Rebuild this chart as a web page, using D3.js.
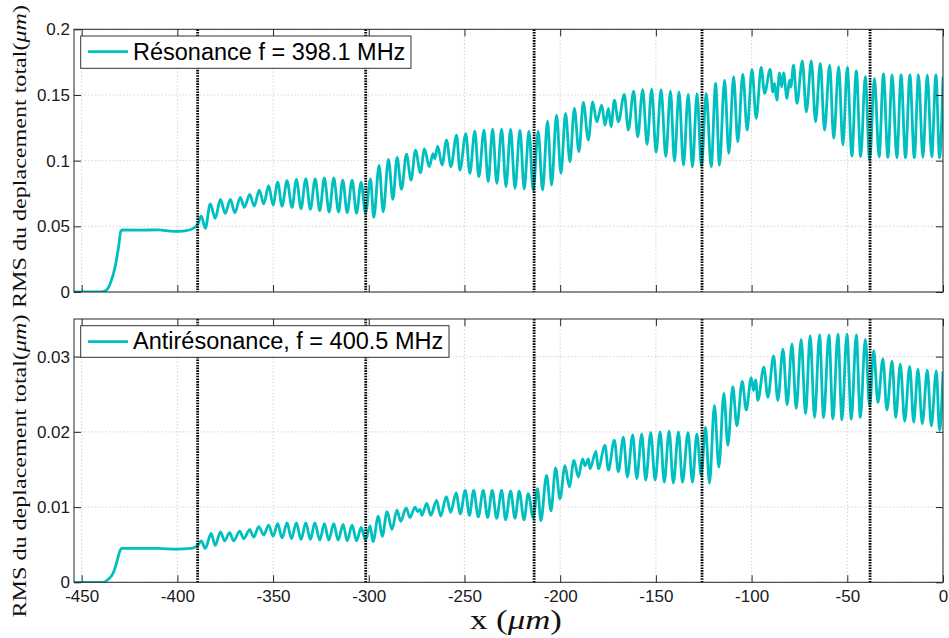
<!DOCTYPE html>
<html><head><meta charset="utf-8">
<script src="https://cdn.jsdelivr.net/npm/d3@7"></script>
<style>body{margin:0;background:#fff}svg{display:block}</style>
</head><body><svg id="chart" width="949" height="638"></svg>
<script>
const xTicks = [-450,-400,-350,-300,-250,-200,-150,-100,-50,0];
const xTickLabels = ["-450","-400","-350","-300","-250","-200","-150","-100","-50","0"];
const resTicks = [0,0.05,0.1,0.15,0.2];
const resTickLabels = ["0","0.05","0.1","0.15","0.2"];
const antiTicks = [0,0.01,0.02,0.03];
const antiTickLabels = ["0","0.01","0.02","0.03"];
const boundaries = [-389.4,-301.6,-213.6,-125.9,-38.1];
const legendLabels = ["Résonance f = 398.1 MHz","Antirésonance, f = 400.5 MHz"];
const yLabel = "RMS du deplacement total";
const xLabel = "x";

// [x (µm), RMS displacement (µm)] (local extrema)
const resonance = [
[-454,0],[-440,0],[-437,0.0015],[-435,0.0066],[-432.5,0.0193],[-430.7,0.0345],[-429.5,0.0465],[-428.5,0.0472],[-420,0.0471],[-410,0.0473],[-402,0.0461],[-396,0.0466],[-391,0.049],[-389.4,0.0515],
[-387.5,0.0578],[-385.4,0.0485],[-382.8,0.067],[-380.2,0.0561],[-377.5,0.0705],[-375,0.0599],[-372.3,0.0705],[-370,0.0604],[-367.1,0.072],[-365,0.0644],[-362.2,0.0743],[-359.8,0.0654],[-357.2,0.0776],[-354.9,0.067],[-352.3,0.0809],[-350,0.0662],[-347.6,0.0837],[-345.3,0.0654],[-342.7,0.0847],[-340.1,0.0644],[-337.8,0.0858],[-335.4,0.0634],[-332.9,0.0862],[-330.5,0.0629],[-328,0.0862],[-325.6,0.0619],[-323.2,0.0868],[-320.7,0.0609],[-318.3,0.0868],[-315.8,0.0609],[-313.6,0.0852],[-311.3,0.0604],[-308.7,0.0852],[-306.4,0.0599],[-304,0.0837],[-301.7,0.0599],
[-299.1,0.0862],[-297.4,0.0568],[-294.6,0.0964],[-292.5,0.0611],[-289.7,0.101],[-287.4,0.0705],[-285.2,0.1025],[-282.9,0.0781],[-280.3,0.105],[-277.9,0.0852],[-275.6,0.108],[-273,0.0908],[-270.9,0.109],[-268.4,0.0954],[-266.4,0.1053],[-265.5,0.1015],[-264,0.111],[-261.7,0.0967],[-259.4,0.1157],[-257.1,0.0954],[-254.1,0.1195],[-252.4,0.0928],[-249.3,0.1205],[-247.2,0.0903],[-244.6,0.1225],[-242.5,0.0878],[-239.8,0.1233],[-237.6,0.084],[-235.3,0.124],[-233.1,0.0827],[-230.6,0.124],[-228.3,0.0802],[-225.9,0.124],[-223.6,0.0789],[-221,0.1233],[-218.8,0.0784],[-216.3,0.1225],[-214.1,0.0776],
[-211.5,0.1225],[-209.2,0.0776],[-206.6,0.1301],[-204.5,0.0814],[-201.9,0.1347],[-199.6,0.0903],[-197.2,0.136],[-194.9,0.0992],[-192.6,0.1398],[-190.2,0.1068],[-187.9,0.1444],[-185.3,0.1157],[-183,0.1448],[-180.9,0.1296],[-178.3,0.1423],[-176.6,0.1271],[-174.8,0.1398],[-173.4,0.1258],[-171.7,0.1461],[-169.6,0.1296],[-166.5,0.1505],[-164.4,0.1233],[-161.6,0.153],[-159.5,0.1182],[-156.9,0.154],[-154.6,0.1124],[-152.2,0.1545],[-149.9,0.1063],[-147.3,0.154],[-144.8,0.103],[-142.4,0.153],[-140.3,0.0997],[-137.9,0.1524],[-135.6,0.0966],[-133.1,0.1505],[-130.9,0.0952],[-128.5,0.151],[-126.2,0.0955],
[-123.7,0.1512],[-121.1,0.0954],[-118.8,0.1588],[-116.8,0.0966],[-114.1,0.1613],[-111.9,0.1055],[-109.4,0.1639],[-107.2,0.1144],[-104.6,0.1659],[-102.3,0.1233],[-99.8,0.1695],[-97.6,0.1322],[-95,0.171],[-93.2,0.1512],[-90.3,0.1695],[-88.9,0.1522],[-88,0.1588],[-86.8,0.1461],[-85.4,0.1669],[-84.3,0.1562],[-83.3,0.1669],[-81.5,0.1474],[-80.2,0.1613],[-79.5,0.156],[-78.1,0.1728],[-76.3,0.1436],[-73.5,0.176],[-71.4,0.1372],[-68.8,0.176],[-66.6,0.1296],[-64.1,0.174],[-61.9,0.1233],[-59.2,0.1728],[-57.1,0.1169],[-54.5,0.1715],[-52.3,0.1119],[-50,0.171],[-47.6,0.1035],[-45.3,0.1684],[-43,0.103],[-40.6,0.1639],[-38.3,0.1005],
[-35.8,0.1627],[-33.4,0.1029],[-31.1,0.166],[-28.8,0.1025],[-26.6,0.1652],[-24.1,0.1022],[-21.9,0.1652],[-19.6,0.1022],[-17.3,0.1652],[-15,0.1022],[-12.8,0.1652],[-10.5,0.1025],[-8.2,0.1652],[-5.9,0.1029],[-3.7,0.1652],[-1.8,0.1022],[0,0.163]
];

const antiresonance = [
[-454,0],[-439,0],[-436.5,0.0003],[-433.4,0.0013],[-431.3,0.003],[-429.8,0.0043],[-429,0.0045],[-420,0.0045],[-410,0.0045],[-400,0.0044],[-393,0.0045],[-390.6,0.0047],[-389.4,0.0049],
[-387.5,0.0055],[-385.4,0.0045],[-382.4,0.0065],[-380.2,0.0049],[-377.5,0.0067],[-375.3,0.0055],[-372.7,0.0066],[-370.6,0.0055],[-367.4,0.0068],[-365.3,0.0058],[-362.2,0.007],[-360.1,0.006],[-357.5,0.0074],[-354.9,0.0063],[-352.3,0.0076],[-350,0.0061],[-347.6,0.0078],[-345.3,0.0059],[-342.7,0.0079],[-340.4,0.0058],[-337.8,0.0079],[-335.4,0.0057],[-332.9,0.0079],[-330.5,0.0057],[-328.2,0.0079],[-325.6,0.0056],[-323.2,0.0078],[-320.9,0.0056],[-318.3,0.0078],[-316,0.0056],[-313.4,0.0077],[-311.3,0.0055],[-308.7,0.0076],[-306.4,0.0055],[-304,0.0073],[-301.7,0.0056],
[-299.3,0.0075],[-297.8,0.0054],[-295,0.0088],[-293,0.0061],[-290.4,0.0094],[-287.9,0.007],[-285.3,0.0096],[-283.3,0.0081],[-280.5,0.0099],[-278.5,0.0086],[-275.8,0.01],[-274.5,0.0094],[-273.2,0.0097],[-272.3,0.0089],[-269.7,0.0105],[-267.6,0.0089],[-264.6,0.0109],[-262.4,0.0088],[-259.5,0.0114],[-257.2,0.0093],[-254.4,0.0119],[-252.2,0.0091],[-249.6,0.0122],[-247.4,0.0089],[-245.2,0.0122],[-242.8,0.0087],[-240.2,0.0122],[-237.9,0.0086],[-235.5,0.0122],[-233.2,0.0085],[-230.6,0.0122],[-228.5,0.0083],[-225.9,0.0121],[-223.6,0.0085],[-221.4,0.0121],[-218.9,0.0083],[-216.7,0.0118],[-214.1,0.0086],
[-211.8,0.01245],[-210.1,0.0082],[-207.1,0.0142],[-204.8,0.0095],[-202.4,0.0152],[-200.1,0.0111],[-197.5,0.0155],[-195.2,0.0127],[-192.8,0.0162],[-190.5,0.014],[-188.3,0.0164],[-187,0.0155],[-185.3,0.0164],[-184.4,0.0151],[-181.3,0.0174],[-180.1,0.0151],[-176.6,0.0182],[-174.8,0.0149],[-171.7,0.0189],[-169.6,0.0147],[-167,0.0193],[-164.9,0.014],[-162.1,0.0196],[-160,0.0138],[-157.4,0.0197],[-155.3,0.0136],[-152.7,0.0199],[-150.4,0.0136],[-147.8,0.02],[-145.6,0.0133],[-143.1,0.0201],[-140.9,0.0132],[-138.2,0.02],[-136.1,0.0133],[-133.2,0.0199],[-130.9,0.0133],[-128.6,0.0197],[-126.3,0.0142],
[-124.1,0.0206],[-122,0.0132],[-119.4,0.0235],[-117.1,0.0153],[-114.5,0.0251],[-112.4,0.0182],[-109.8,0.026],[-107.7,0.0208],[-104.9,0.0267],[-102.8,0.0229],[-100.2,0.0272],[-99,0.0255],[-97.9,0.0269],[-96.7,0.0242],[-93.6,0.0286],[-91.5,0.0246],[-88.5,0.0301],[-86.3,0.0242],[-83.6,0.031],[-81.4,0.0236],[-78.9,0.0317],[-76.7,0.0231],[-74.1,0.0323],[-71.8,0.0224],[-69.4,0.0328],[-67.1,0.0219],[-64.5,0.0329],[-62.4,0.0219],[-59.6,0.0329],[-57.5,0.0217],[-54.9,0.033],[-52.8,0.0216],[-50.2,0.033],[-47.9,0.0217],[-45.3,0.0329],[-43.2,0.0219],[-40.6,0.0323],[-38.3,0.0234],
[-36.2,0.0308],[-34,0.0239],[-31.4,0.0297],[-29.3,0.0229],[-26.6,0.0294],[-24.7,0.0219],[-22.3,0.029],[-20,0.0214],[-17.4,0.0287],[-15.3,0.0213],[-13.1,0.0283],[-10.8,0.0211],[-8.2,0.0282],[-6.1,0.0208],[-3.5,0.0281],[-1.8,0.0202],[0,0.0279]
];

const svg = d3.select("#chart");
const lineColor = "#00BFBF";
const axisColor = "#262626";
const sans = "'Liberation Sans', Arial, Helvetica, sans-serif";
const serif = "'Liberation Serif', 'DejaVu Serif', serif";

const x = d3.scaleLinear().domain([-454, 0]).range([74, 943]);

const panels = [
  {top: 29.3, bottom: 292, max: 0.2, ticks: resTicks, labels: resTickLabels, data: resonance,
   legend: legendLabels[0], box: [80.7, 36, 330.3, 32.3], legBase: 60, legLineY: 51.7,
   yLabCenter: 156.5, showX: false},
  {top: 319, bottom: 582.3, max: 0.035, ticks: antiTicks, labels: antiTickLabels, data: antiresonance,
   legend: legendLabels[1], box: [80.7, 325.7, 368.3, 31.6], legBase: 349.3, legLineY: 341.7,
   yLabCenter: 466, showX: true}
];

panels.forEach((p, i) => {
  const y = d3.scaleLinear().domain([0, p.max]).range([p.bottom, p.top]);
  const g = svg.append("g");
  const clipId = "clip" + i;
  svg.append("clipPath").attr("id", clipId).append("rect")
    .attr("x", 74).attr("y", p.top).attr("width", 869).attr("height", p.bottom - p.top);

  // grid
  g.append("g").selectAll("line").data(xTicks).join("line")
    .attr("x1", d => x(d)).attr("x2", d => x(d)).attr("y1", p.top).attr("y2", p.bottom)
    .attr("stroke", "#d4d4d4").attr("stroke-width", 1).attr("stroke-dasharray", "1.5,2");
  g.append("g").selectAll("line").data(p.ticks).join("line")
    .attr("x1", 74).attr("x2", 943).attr("y1", d => y(d)).attr("y2", d => y(d))
    .attr("stroke", "#d4d4d4").attr("stroke-width", 1).attr("stroke-dasharray", "1.5,2");

  // data line
  const line = d3.line().x(d => x(d[0])).y(d => y(d[1])).curve(d3.curveMonotoneX);
  g.append("path").datum(p.data).attr("d", line)
    .attr("clip-path", `url(#${clipId})`)
    .attr("fill", "none").attr("stroke", lineColor).attr("stroke-width", 2.8)
    .attr("stroke-linejoin", "round").attr("stroke-linecap", "round");

  // boundary dotted lines
  g.append("g").selectAll("line").data(boundaries).join("line")
    .attr("x1", d => x(d)).attr("x2", d => x(d)).attr("y1", p.top).attr("y2", p.bottom)
    .attr("stroke", "#000").attr("stroke-width", 2.8).attr("stroke-dasharray", "1.6,1.1");

  // axes
  const ax = (sel) => { sel.select(".domain").remove();
    sel.selectAll(".tick line").attr("stroke", axisColor).attr("stroke-width", 1);
    sel.selectAll("text").attr("fill", "#1a1a1a").style("font-family", sans).style("font-size", "17px"); };
  g.append("g").attr("transform", `translate(0,${p.bottom})`)
    .call(d3.axisBottom(x).tickValues(xTicks).tickSize(-7).tickPadding(8)
      .tickFormat((d, k) => p.showX ? xTickLabels[k] : ""))
    .call(ax);
  g.append("g").attr("transform", `translate(0,${p.top})`)
    .call(d3.axisTop(x).tickValues(xTicks).tickSize(-7).tickFormat(""))
    .call(ax);
  g.append("g").attr("transform", `translate(74,0)`)
    .call(d3.axisLeft(y).tickValues(p.ticks).tickSize(-7).tickPadding(4)
      .tickFormat((d, k) => p.labels[k]))
    .call(ax);
  g.append("g").attr("transform", `translate(943,0)`)
    .call(d3.axisRight(y).tickValues(p.ticks).tickSize(-7).tickFormat(""))
    .call(ax);
  g.append("rect").attr("x", 74).attr("y", p.top).attr("width", 869).attr("height", p.bottom - p.top)
    .attr("fill", "none").attr("stroke", axisColor).attr("stroke-width", 1);

  // legend
  const [bx, by, bw, bh] = p.box;
  g.append("rect").attr("x", bx).attr("y", by).attr("width", bw).attr("height", bh)
    .attr("fill", "#fff").attr("stroke", "#333").attr("stroke-width", 1);
  g.append("line").attr("x1", 88).attr("x2", 128).attr("y1", p.legLineY).attr("y2", p.legLineY)
    .attr("stroke", lineColor).attr("stroke-width", 2.8);
  g.append("text").attr("x", 133).attr("y", p.legBase).text(p.legend)
    .style("font-family", sans).style("font-size", "23.5px").attr("fill", "#000");

  // y label
  const yl = svg.append("text")
    .attr("transform", `translate(26,${p.yLabCenter}) rotate(-90)`)
    .attr("text-anchor", "middle")
    .attr("textLength", 303).attr("lengthAdjust", "spacingAndGlyphs")
    .style("font-family", serif).style("font-size", "19px").attr("fill", "#111");
  yl.append("tspan").text(yLabel + "(");
  yl.append("tspan").style("font-style", "italic").text("μm");
  yl.append("tspan").text(")");
});

// x label
const xl = svg.append("text").attr("x", 516).attr("y", 629).attr("text-anchor", "middle")
  .attr("textLength", 92).attr("lengthAdjust", "spacingAndGlyphs")
  .style("font-family", serif).style("font-size", "27px").attr("fill", "#111");
xl.append("tspan").text(xLabel + " (");
xl.append("tspan").style("font-style", "italic").text("μm");
xl.append("tspan").text(")");
</script>
</body></html>
